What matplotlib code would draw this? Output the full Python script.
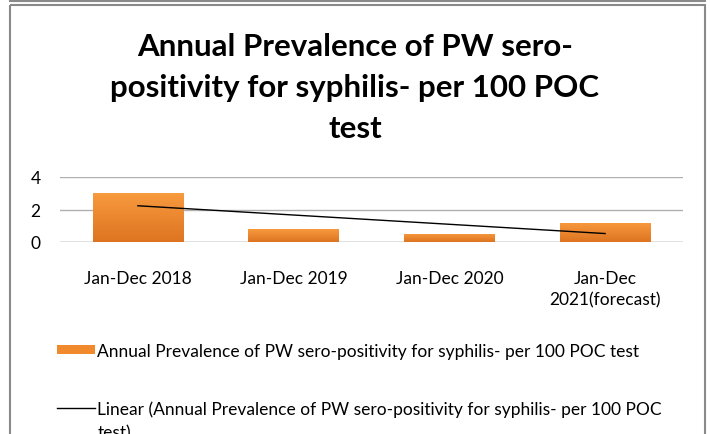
import matplotlib
matplotlib.use("Agg")
import matplotlib.pyplot as plt
import numpy as np
from matplotlib.patches import Rectangle
from matplotlib.lines import Line2D
from matplotlib.colors import LinearSegmentedColormap

categories = ["Jan-Dec 2018", "Jan-Dec 2019", "Jan-Dec 2020", "Jan-Dec\n2021(forecast)"]
values = [3.0, 0.8, 0.5, 1.2]
yticks = [0, 2, 4]
title = "Annual Prevalence of PW sero-\npositivity for syphilis- per 100 POC\ntest"
series_label = "Annual Prevalence of PW sero-positivity for syphilis- per 100 POC test"
trend_label = "Linear (Annual Prevalence of PW sero-positivity for syphilis- per 100 POC"
trend_label_wrap = "test)"

plt.rcParams['font.family'] = ['Lato', 'DejaVu Sans']

W, H = 710, 435
fig = plt.figure(figsize=(W/100, H/100), dpi=100)
fig.patch.set_facecolor('white')

# frames
fig.patches.append(Rectangle((10/W, 1 - 6/H), 695/W, -(H+10)/H, transform=fig.transFigure,
                             fill=False, edgecolor='#8a8a8a', lw=1.5))
fig.lines.append(Line2D([10/W, 705/W], [1 - 2/H, 1 - 2/H], transform=fig.transFigure,
                        color='#8a8a8a', lw=1.5))

ax = fig.add_axes([60/W, 1 - 243/H, 623/W, 65/H])
x = np.arange(len(categories))
bw = 0.58
bars = ax.bar(x, values, width=bw, color='#F08A2C', zorder=2)

cmap = LinearSegmentedColormap.from_list('o', ['#DD7421', '#F89A3E'])
grad = np.linspace(0, 1, 100).reshape(-1, 1)
for b in bars:
    bx, by, bwid, bh = b.get_x(), b.get_y(), b.get_width(), b.get_height()
    im = ax.imshow(grad, extent=[bx, bx + bwid, by, by + bh], origin='lower',
                   cmap=cmap, aspect='auto', zorder=2.5)
    im.set_clip_path(b)

coef = np.polyfit(x, values, 1)
ax.plot(x, np.polyval(coef, x), color='black', lw=1, zorder=3)

ax.set_xlim(-0.5, len(categories) - 0.5)
ax.set_ylim(0, 4)
ax.set_yticks(yticks)
ax.set_xticks(x)
ax.set_xticklabels(categories, fontsize=12.5, linespacing=1.45)
ax.tick_params(axis='both', length=0, labelsize=12.5)
ax.tick_params(axis='x', pad=20)
ax.tick_params(axis='y', pad=14)
ax.yaxis.grid(True, color='#b0b0b0', lw=1, zorder=0)
for s in ax.spines.values():
    s.set_visible(False)
ax.axhline(0, color='#b0b0b0', lw=1, zorder=1)
ax.set_facecolor('none')

fig.text(0.5, 1 - 88/H, title, ha='center', va='center', fontsize=22.5, fontweight='bold',
         linespacing=1.58)

h1 = Rectangle((0, 0), 1, 1, facecolor='#F08A2C')
h2 = Line2D([0], [0], color='black', lw=1)
fig.legend([h1], [series_label], loc='center left', bbox_to_anchor=(41/W, 1 - 352/H),
           frameon=False, fontsize=12.5, handlelength=2.2, handletextpad=0.15, handleheight=0.45)
fig.legend([h2], [trend_label], loc='center left', bbox_to_anchor=(41/W, 1 - 410/H),
           frameon=False, fontsize=12.5, handlelength=2.2, handletextpad=0.15)
fig.text(98/W, 1 - 433/H, trend_label_wrap, ha='left', va='center', fontsize=12.5)

fig.savefig('out.png', dpi=100)
